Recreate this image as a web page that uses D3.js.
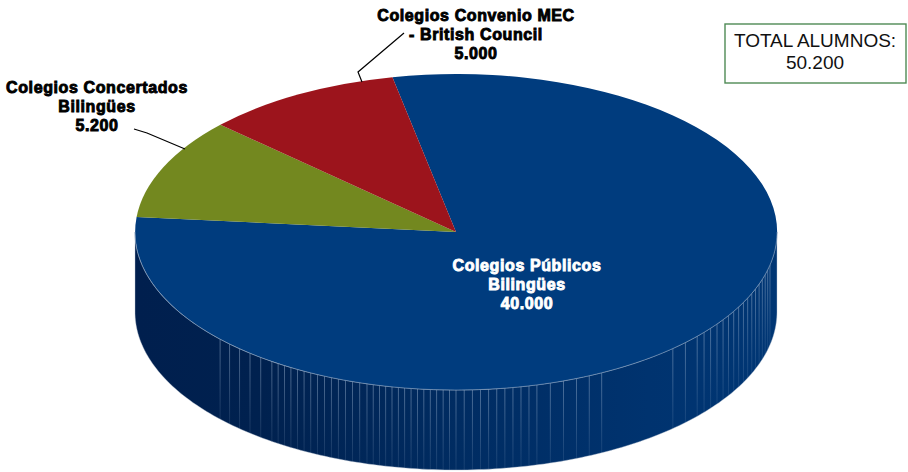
<!DOCTYPE html>
<html>
<head>
<meta charset="utf-8">
<script src="https://cdn.jsdelivr.net/npm/d3@7"></script>
<style>
    html, body { margin: 0; padding: 0; background: #fff; }
    #chart { width: 908px; height: 472px; }
    .label { font-family: "Liberation Sans", Arial, sans-serif; font-weight: bold; font-size: 16px; letter-spacing: 0.6px; text-anchor: middle; stroke-width: 0.9px; paint-order: stroke; }
    .total { font-family: "Liberation Sans", Arial, sans-serif; font-size: 19px; text-anchor: middle; fill: #111; }
</style>
</head>
<body>
<div id="chart"></div>
<script>
var categories = ["Colegios Públicos Bilingües", "Colegios Concertados Bilingües", "Colegios Convenio MEC - British Council"];
var values = [40000, 5200, 5000];
var valueLabels = ["40.000", "5.200", "5.000"];
var colors = ["#003c7e", "#73881f", "#9c141c"];
var totalLines = ["TOTAL ALUMNOS:", "50.200"];

var width = 908;
var height = 472;

var svg = d3.select("#chart")
    .append("svg")
    .attr("width", width)
    .attr("height", height);

/* the top face is a normal unit pie squashed into an ellipse */
var pie3d = {cx: 456, cy: 232, rx: 321, ry: 158, depth: 80};
var startAngle = -11.4 * Math.PI / 180;

var pie = d3.pie()
    .sort(null)
    .startAngle(startAngle)
    .endAngle(startAngle + 2 * Math.PI);
var arcs = pie(values);

var arc = d3.arc().innerRadius(0).outerRadius(1);

function rimX(a) { return pie3d.cx + pie3d.rx * Math.sin(a); }
function rimY(a) { return pie3d.cy - pie3d.ry * Math.cos(a); }

var defs = svg.append("defs");

var wallGrad = defs.append("linearGradient")
    .attr("id", "wall")
    .attr("gradientUnits", "userSpaceOnUse")
    .attr("x1", pie3d.cx - pie3d.rx).attr("x2", pie3d.cx + pie3d.rx)
    .attr("y1", 0).attr("y2", 0);
wallGrad.selectAll("stop")
    .data([[0, "#001f4e"], [0.2, "#00214f"], [0.5, "#002c62"], [0.8, "#00336f"], [1, "#003674"]])
    .enter().append("stop")
    .attr("offset", function(d) { return d[0]; })
    .attr("stop-color", function(d) { return d[1]; });

var streakGrad = defs.append("linearGradient")
    .attr("id", "streak")
    .attr("x1", 0).attr("x2", 0).attr("y1", 0).attr("y2", 1);
streakGrad.append("stop").attr("offset", 0).attr("stop-color", "#9db4d0").attr("stop-opacity", 0.6);
streakGrad.append("stop").attr("offset", 1).attr("stop-color", "#9db4d0").attr("stop-opacity", 0.15);

/* front wall of the cylinder, left to right along the lower half */
var wallAngles = d3.range(90, 270.5, 1).map(function(d) { return d * Math.PI / 180; });
var wallPath = d3.path();
wallAngles.forEach(function(a, i) {
    if (i === 0) wallPath.moveTo(rimX(a), rimY(a));
    else wallPath.lineTo(rimX(a), rimY(a));
});
wallAngles.slice().reverse().forEach(function(a) {
    wallPath.lineTo(rimX(a), rimY(a) + pie3d.depth);
});
wallPath.closePath();

svg.append("path")
    .attr("d", wallPath.toString())
    .attr("fill", "url(#wall)")
    .attr("stroke", "#bcc6d4")
    .attr("stroke-width", 0.4);

/* thin facet lines on the wall, unevenly spaced like the original render */
var facetAngle = d3.scaleLinear()
    .domain([0, 5, 19, 33, 43, 48, 49, 51, 55, 67])
    .range([227.3, 215, 196.1, 180, 165.4, 153, 137.5, 131.3, 123.7, 102]);

svg.selectAll(".streak")
    .data(d3.range(0, 68))
    .enter().append("rect")
    .attr("class", "streak")
    .attr("x", function(d) { return rimX(facetAngle(d) * Math.PI / 180) - 0.4; })
    .attr("y", function(d) { return rimY(facetAngle(d) * Math.PI / 180); })
    .attr("width", 0.8)
    .attr("height", pie3d.depth)
    .attr("fill", "url(#streak)");

var topFace = svg.append("g")
    .attr("transform", "translate(" + pie3d.cx + "," + pie3d.cy + ") scale(" + pie3d.rx + "," + pie3d.ry + ")");

topFace.selectAll("path")
    .data(arcs)
    .enter().append("path")
    .attr("d", arc)
    .attr("fill", function(d, i) { return colors[i]; });

/* light line along the front rim */
var rimPath = d3.path();
wallAngles.forEach(function(a, i) {
    if (i === 0) rimPath.moveTo(rimX(a), rimY(a));
    else rimPath.lineTo(rimX(a), rimY(a));
});
svg.append("path")
    .attr("d", rimPath.toString())
    .attr("fill", "none")
    .attr("stroke", "#7f9aba")
    .attr("stroke-width", 0.6);

/* leader lines */
var leaders = [
    [[134, 129], [147, 133], [185, 149]],
    [[404, 33], [358, 72], [362, 82]]
];
svg.selectAll(".leader")
    .data(leaders)
    .enter().append("path")
    .attr("class", "leader")
    .attr("d", d3.line())
    .attr("fill", "none")
    .attr("stroke", "#000")
    .attr("stroke-width", 1.2);

/* data labels */
var labelLines = [
    ["Colegios Públicos", "Bilingües", valueLabels[0]],
    ["Colegios Concertados", "Bilingües", valueLabels[1]],
    ["Colegios Convenio MEC", "- British Council", valueLabels[2]]
];
var labelPos = [[527, 271], [97, 93], [476, 21]];
var labelFill = ["#fff", "#000", "#000"];

labelLines.forEach(function(lines, i) {
    svg.append("g")
        .selectAll("text")
        .data(lines)
        .enter().append("text")
        .attr("class", "label")
        .attr("x", labelPos[i][0])
        .attr("y", function(d, j) { return labelPos[i][1] + j * 19; })
        .attr("fill", labelFill[i])
        .attr("stroke", labelFill[i])
        .text(function(d) { return d; });
});

/* total box */
svg.append("rect")
    .attr("x", 725).attr("y", 24)
    .attr("width", 181).attr("height", 59)
    .attr("fill", "#fff")
    .attr("stroke", "#4f8a55")
    .attr("stroke-width", 1.4);

svg.selectAll(".total")
    .data(totalLines)
    .enter().append("text")
    .attr("class", "total")
    .attr("x", 815)
    .attr("y", function(d, i) { return 47 + i * 22; })
    .text(function(d) { return d; });
</script>
</body>
</html>
